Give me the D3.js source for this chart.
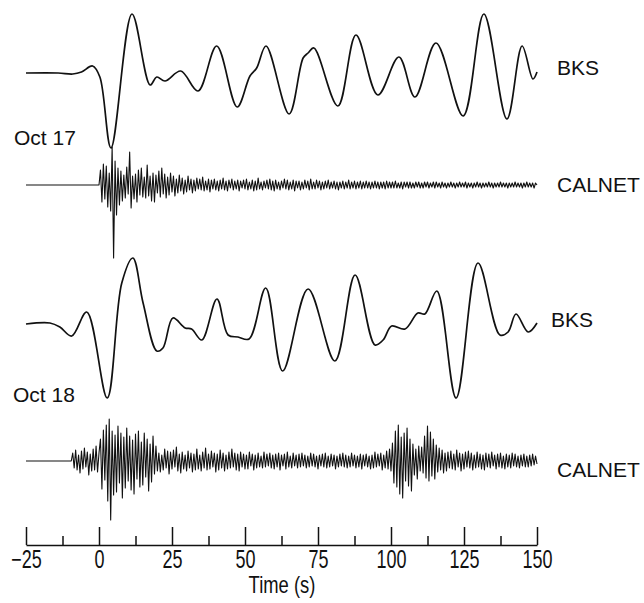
<!DOCTYPE html>
<html>
<head>
<meta charset="utf-8">
<script src="https://cdn.jsdelivr.net/npm/d3@7"></script>
<style>
  body { margin: 0; background: #fff; }
  .lbl { font-family: "Liberation Sans", Arial, sans-serif; font-size: 21px; fill: #111; }
  .axis text { font-family: "Liberation Sans", Arial, sans-serif; font-size: 25px; fill: #111; }
  .axis line, .axis path { stroke: #111; stroke-width: 1.5; }
</style>
</head>
<body>
<script>
// Chart params
var svgWidth = 644;
var svgHeight = 603;

// time axis
var tickMajor = [-25, 0, 25, 50, 75, 100, 125, 150];
var tickMinor = [-12.5, 12.5, 37.5, 62.5, 87.5, 112.5, 137.5];

// BKS broadband, Oct 17 (time s, amplitude)
var bks17Time = [-25, -14, -9, -6, -2.2, 0.3, 4.1, 11.3, 17.5, 19.8, 22.6, 28, 33.9, 40.3, 47.3, 51.7, 54, 57.2,
  65.1, 69.9, 71.6, 73.6, 81.8, 88, 95.5, 102.7, 108.2, 115.4, 124.7, 131.8, 139.7, 144.9, 148.6, 150];
var bks17Amp = [0, 0, -1, 1, 7, -4, -75, 59, -12, -4, -8, 2, -18, 27, -34, -3, 5, 27,
  -41, 15, 20, 25, -33, 38, -22, 16, -24, 30, -43, 59, -46, 27, -6, 1];

// BKS broadband, Oct 18
var bks18Time = [-25, -16.8, -13.4, -9.35, -4.2, 2.8, 7.8, 11.6, 15.1, 19.8, 21.9, 25.3, 29.5, 31.7, 35.2, 40.4,
  44.2, 47.6, 51.4, 57.1, 62.9, 71.6, 80.8, 87.7, 94.5, 97.3, 100.2, 104.8, 109.2, 111.6, 115.7, 122.3,
  129.8, 137.3, 140.1, 142.8, 147, 150];
var bks18Amp = [0, 1, -3, -12, 12, -74, 41, 66, 21, -27, -24, 6, -4, -5, -16, 25,
  -11, -13, -15, 36, -47, 35, -37, 49, -21, -16, -2, -5, 11, 10, 33, -74,
  61, -11, -8, 10, -8, 1];

// CALNET short period, sampled every 0.5 s
var calnetDt = 0.5;
var calnet17Start = 0;
var calnet17Amp = [
  0, 15, -17, 21, -14, 19, -22, 12, -26, 38, -73, 24, -30, 17, -20, 14, -16, 10, -13, 18,
  -9, 33, -23, 9, -14, 11, -17, 15, -10, 17, -12, 8, -13, 20, -11, 9, -16, 12, -17, 10,
  -8, 14, -12, 17, -9, 11, -13, 8, -10, 12, -7, 9, -11, 6, -8, 10, -6, 7, -9, 5,
  -7, 9, -5, 6, -8, 5, -6, 7, -4, 6, -5, 8, -6, 4, -5, 6, -7, 5, -4, 6,
  -5, 4, -6, 5, -4, 7, -5, 4, -6, 5, -3, 6, -5, 4, -4, 5, -6, 4, -3, 5,
  -4, 6, -5, 3, -4, 5, -6, 4, -5, 7, -4, 3, -5, 4, -3, 5, -4, 6, -5, 4,
  -6, 5, -4, 3, -5, 4, -3, 6, -4, 5, -5, 3, -4, 5, -6, 4, -3, 4, -5, 3,
  -4, 5, -3, 4, -5, 6, -4, 3, -4, 5, -3, 4, -5, 3, -4, 4, -3, 5, -4, 3,
  -3, 4, -4, 3, -5, 3, -3, 4, -4, 3, -3, 5, -4, 3, -3, 4, -4, 3, -3, 4,
  -4, 3, -3, 4, -3, 3, -4, 3, -3, 4, -3, 3, -4, 3, -3, 3, -4, 4, -3, 3,
  -3, 3, -3, 4, -3, 2, -3, 3, -4, 3, -2, 3, -3, 3, -3, 2, -3, 3, -2, 3,
  -3, 2, -3, 3, -2, 3, -3, 2, -2, 3, -3, 3, -2, 2, -3, 3, -2, 2, -3, 2,
  -2, 3, -2, 2, -3, 2, -2, 3, -2, 2, -2, 3, -3, 2, -2, 2, -3, 2, -2, 3,
  -2, 2, -3, 2, -2, 2, -2, 3, -2, 2, -3, 2, -2, 2, -2, 3, -2, 2, -2, 2,
  -3, 2, -2, 2, -2, 3, -2, 2, -2, 2, -3, 2, -2, 3, -2, 2, -2, 2, -3, 2,
  0
];
var calnet18Start = -9.5;
var calnet18Amp = [
  0, 8, -7, 11, -9, 6, -12, 10, -8, 13, -6, 9, -14, 7, -10, 12, -9, 15, -11, 8,
  22, -28, 31, -19, 36, -40, 42, -59, 30, -34, 26, -31, 35, -22, 28, -37, 24, -27, 33, -20,
  25, -29, 21, -33, 27, -18, 30, -26, 19, -24, 28, -16, 22, -30, 17, -21, 25, -13, 15, -10,
  8, -11, 6, -9, 12, -7, 10, -13, 9, -8, 11, -6, 14, -10, 7, -12, 9, -8, 6, -10,
  10, -7, 8, -11, 7, -9, 12, -8, 6, -10, 9, -7, 13, -9, 7, -8, 10, -6, 8, -11,
  7, -9, 11, -7, 8, -10, 6, -8, 9, -7, 12, -6, 8, -9, 7, -10, 9, -6, 7, -8,
  6, -8, 9, -5, 7, -9, 6, -7, 8, -6, 5, -7, 9, -6, 7, -5, 8, -7, 6, -8,
  7, -6, 8, -9, 6, -5, 7, -8, 9, -6, 5, -7, 8, -5, 6, -7, 7, -6, 8, -5,
  6, -7, 5, -6, 8, -5, 7, -6, 5, -8, 6, -5, 7, -6, 8, -7, 5, -6, 7, -5,
  6, -8, 5, -6, 7, -5, 8, -6, 6, -7, 5, -6, 8, -5, 6, -7, 5, -6, 7, -8,
  6, -5, 7, -6, 5, -8, 6, -7, 9, -6, 7, -5, 8, -9, 6, -7, 10, -8, 12, -10,
  18, -22, 30, -26, 36, -33, 24, -37, 28, -20, 33, -25, 22, -30, 17, -14, 12, -18, 15, -10,
  14, -12, 25, -17, 35, -20, 29, -15, 22, -18, 16, -11, 13, -9, 11, -12, 8, -10, 9, -7,
  10, -8, 7, -9, 11, -6, 8, -10, 7, -8, 9, -6, 10, -7, 8, -9, 6, -7, 9, -6,
  7, -8, 6, -9, 8, -6, 7, -7, 9, -5, 6, -8, 7, -6, 8, -7, 5, -8, 7, -6,
  6, -7, 8, -5, 7, -6, 5, -7, 6, -5, 7, -6, 5, -6, 6, -5, 7, -4, 5, -3
];

var svg = d3.select("body")
  .append("svg")
  .attr("width", svgWidth)
  .attr("height", svgHeight);

var xScale = d3.scaleLinear()
  .domain([-25, 150])
  .range([26, 537]);

// amplitude units -> px, up is positive
var ampScale = d3.scaleLinear()
  .domain([0, 100])
  .range([0, -100]);

function pairs(times, amps) {
  return times.map((t, i) => ({ t: t, v: amps[i] }));
}

function sampled(start, amps) {
  // flat pre-event line from the start of the window
  var pts = [{ t: -25, v: 0 }];
  amps.forEach((v, i) => pts.push({ t: start + i * calnetDt, v: v }));
  return pts;
}

var smoothLine = d3.line()
  .x(d => xScale(d.t))
  .y(d => ampScale(d.v))
  .curve(d3.curveCatmullRom.alpha(0.5));

var rawLine = d3.line()
  .x(d => xScale(d.t))
  .y(d => ampScale(d.v));

var traces = [
  { base: 73, data: pairs(bks17Time, bks17Amp), line: smoothLine, w: 1.7, label: "BKS", lx: 557, ly: 75 },
  { base: 185, data: sampled(calnet17Start, calnet17Amp), line: rawLine, w: 1.1, label: "CALNET", lx: 557, ly: 192 },
  { base: 324, data: pairs(bks18Time, bks18Amp), line: smoothLine, w: 1.7, label: "BKS", lx: 551, ly: 327 },
  { base: 461, data: sampled(calnet18Start, calnet18Amp), line: rawLine, w: 1.1, label: "CALNET", lx: 557, ly: 477 }
];

traces.forEach(tr => {
  svg.append("path")
    .datum(tr.data)
    .attr("transform", `translate(0, ${tr.base})`)
    .attr("fill", "none")
    .attr("stroke", "#111")
    .attr("stroke-width", tr.w)
    .attr("stroke-linejoin", "round")
    .attr("d", tr.line);

  svg.append("text")
    .attr("class", "lbl")
    .attr("x", tr.lx)
    .attr("y", tr.ly)
    .text(tr.label);
});

svg.append("text").attr("class", "lbl").attr("x", 14).attr("y", 145).text("Oct 17");
svg.append("text").attr("class", "lbl").attr("x", 13).attr("y", 402).text("Oct 18");

// time axis, ticks pointing up
var axisY = 545;
var majorAxis = d3.axisBottom(xScale)
  .tickValues(tickMajor)
  .tickSize(-18)
  .tickSizeOuter(0)
  .tickPadding(5)
  .tickFormat(d => d < 0 ? "\u2212" + Math.abs(d) : d);

var majorG = svg.append("g")
  .attr("class", "axis")
  .attr("transform", `translate(0, ${axisY})`)
  .call(majorAxis);

// condensed look of the original lettering
majorG.selectAll(".tick text")
  .attr("transform", "scale(0.72, 1)");

var minorAxis = d3.axisBottom(xScale)
  .tickValues(tickMinor)
  .tickSize(-9)
  .tickFormat("");

svg.append("g")
  .attr("class", "axis")
  .attr("transform", `translate(0, ${axisY})`)
  .call(minorAxis)
  .select(".domain").remove();

svg.append("text")
  .attr("x", 282 / 0.8)
  .attr("y", 593)
  .attr("transform", "scale(0.8, 1)")
  .attr("text-anchor", "middle")
  .style("font-family", "'Liberation Sans', Arial, sans-serif")
  .style("font-size", "23px")
  .style("fill", "#111")
  .text("Time (s)");
</script>
</body>
</html>
